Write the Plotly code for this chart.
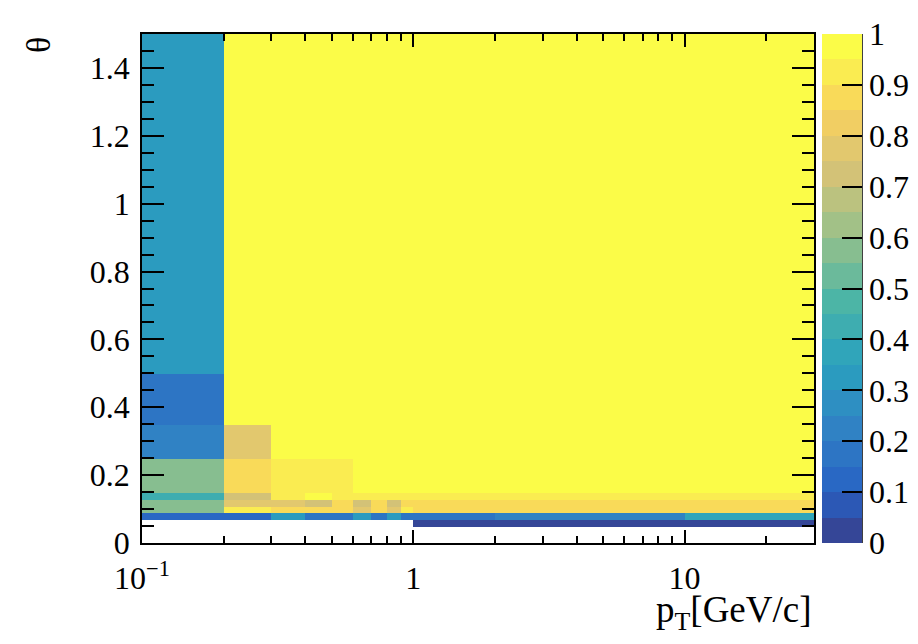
import plotly.graph_objects as go

# ---- data ----
pt_edges = [0.1, 0.2, 0.3, 0.4, 0.5, 0.6, 0.7, 0.8, 0.9, 1.0, 2.0, 10.0, 30.0]
theta_edges = [0.047, 0.067, 0.087, 0.107, 0.127, 0.147, 0.247, 0.347, 0.497, 1.5]

row_0047 = [None, None, None, None, None, None, None, None, None, 0.04, 0.04, 0.04]
row_0067 = [0.14, 0.14, 0.33, 0.17, 0.17, 0.32, 0.17, 0.33, 0.17, 0.17, 0.22, 0.36]
row_0087 = [0.56, 0.91, 0.87, 0.87, 0.87, 0.77, 0.87, 0.77, 0.91, 0.89, 0.89, 0.89]
row_0107 = [0.56, 0.77, 0.78, 0.72, 0.87, 0.72, 0.87, 0.72, 0.87, 0.86, 0.86, 0.86]
row_0127 = [0.43, 0.71, 0.93, 0.98, 0.93, 0.93, 0.93, 0.93, 0.93, 0.92, 0.92, 0.92]
row_0147 = [0.59, 0.86, 0.93, 0.93, 0.93, 0.98, 0.98, 0.98, 0.98, 0.98, 0.98, 0.98]
row_0247 = [0.22, 0.77, 0.98, 0.98, 0.98, 0.98, 0.98, 0.98, 0.98, 0.98, 0.98, 0.98]
row_0347 = [0.17, 0.98, 0.98, 0.98, 0.98, 0.98, 0.98, 0.98, 0.98, 0.98, 0.98, 0.98]
row_0497 = [0.33, 0.98, 0.98, 0.98, 0.98, 0.98, 0.98, 0.98, 0.98, 0.98, 0.98, 0.98]

z = [row_0047, row_0067, row_0087, row_0107, row_0127,
     row_0147, row_0247, row_0347, row_0497]

x_tickvals = [0.1, 1, 10]
x_ticktext = ["10<sup>\u22121</sup>", "1", "10"]
x_minor = [0.2, 0.3, 0.4, 0.5, 0.6, 0.7, 0.8, 0.9, 2, 3, 4, 5, 6, 7, 8, 9, 20, 30]
cb_ticks = [0, 0.1, 0.2, 0.3, 0.4, 0.5, 0.6, 0.7, 0.8, 0.9, 1.0]
cb_text = ["0", "0.1", "0.2", "0.3", "0.4", "0.5", "0.6", "0.7", "0.8", "0.9", "1"]

# ---- ROOT kBird palette, 20 contour levels (slightly softened like the reference) ----
stops = [0.0, 0.125, 0.25, 0.375, 0.5, 0.625, 0.75, 0.875, 1.0]
red = [0.2082, 0.0592, 0.0780, 0.0232, 0.1802, 0.5301, 0.8186, 0.9956, 0.9764]
green = [0.1664, 0.3599, 0.5041, 0.6419, 0.7178, 0.7492, 0.7328, 0.7862, 0.9832]
blue = [0.5293, 0.8684, 0.8385, 0.7914, 0.6425, 0.4662, 0.3499, 0.1968, 0.0539]


def bird(f):
    f = min(max(f, 0.0), 1.0)
    for k in range(1, len(stops)):
        if f <= stops[k]:
            t = (f - stops[k - 1]) / (stops[k] - stops[k - 1])
            r = red[k - 1] + t * (red[k] - red[k - 1])
            g = green[k - 1] + t * (green[k] - green[k - 1])
            b = blue[k - 1] + t * (blue[k] - blue[k - 1])
            break
    r, g, b = r * 255, g * 255, b * 255
    lum = 0.3 * r + 0.59 * g + 0.11 * b
    s = 0.76
    r, g, b = [min(255, max(0, lum + s * (c - lum) + 8)) for c in (r, g, b)]
    return "rgb(%d,%d,%d)" % (round(r), round(g), round(b))


ncont = 20
colorscale = []
for i in range(ncont):
    idx = int((i + 0.99) * 255 / ncont)
    c = bird(idx / 254.0)
    colorscale.append([i / ncont, c])
    colorscale.append([(i + 1) / ncont, c])

# ---- layout geometry (page is offset by the 8px body margin) ----
OFF = 8
W, H = 918 - OFF, 644 - OFF
L, T = 142 - OFF, 34 - OFF
R = W - (814 - OFF)
B = H - (543 - OFF)
pw = W - L - R
ph = H - T - B


def px_x(page_x):
    return (page_x - OFF - L) / pw


def px_y(page_y):
    return (H - B - (page_y - OFF)) / ph


font_family = "Liberation Serif, Times New Roman, serif"

fig = go.Figure()
fig.add_trace(go.Heatmap(
    x=pt_edges, y=theta_edges, z=z,
    zmin=0, zmax=1, colorscale=colorscale, zsmooth=False,
    hoverongaps=False,
    colorbar=dict(
        x=px_x(822), xanchor="left", xpad=0, ypad=0,
        y=0.5, yanchor="middle", len=1, lenmode="fraction",
        thickness=40, thicknessmode="pixels",
        outlinewidth=0,
        ticks="inside", ticklen=20, tickwidth=1.5, tickcolor="black",
        tickvals=cb_ticks, ticktext=cb_text,
        tickfont=dict(family=font_family, size=32, color="black"),
    ),
))

fig.update_layout(
    width=W, height=H,
    margin=dict(l=L, r=R, t=T, b=B, autoexpand=False),
    paper_bgcolor="white", plot_bgcolor="white",
    showlegend=False,
    font=dict(family=font_family, color="black"),
    xaxis=dict(
        type="log", range=[-1, 1.4771],
        showgrid=False, zeroline=False, automargin=False,
        showline=True, linecolor="black", linewidth=1.5, mirror="ticks",
        ticks="inside", ticklen=13, tickwidth=1.5, tickcolor="black",
        tickmode="array", tickvals=x_tickvals, ticktext=x_ticktext,
        tickfont=dict(family=font_family, size=32, color="black"),
        ticklabelstandoff=6,
        minor=dict(ticks="inside", ticklen=7, tickwidth=1.5, tickcolor="black",
                   tickmode="array", tickvals=x_minor, showgrid=False),
    ),
    yaxis=dict(
        range=[0, 1.5],
        showgrid=False, zeroline=False, automargin=False,
        showline=True, linecolor="black", linewidth=1.5, mirror="ticks",
        ticks="inside", ticklen=22, tickwidth=1.5, tickcolor="black",
        tick0=0, dtick=0.2,
        tickfont=dict(family=font_family, size=32, color="black"),
        ticklabelstandoff=4,
        minor=dict(ticks="inside", ticklen=12, tickwidth=1.5, tickcolor="black",
                   dtick=0.05, showgrid=False),
    ),
    shapes=[dict(type="line", xref="paper", yref="paper",
                 x0=px_x(862), x1=px_x(862), y0=0, y1=1,
                 line=dict(color="black", width=1.5))],
    annotations=[
        dict(text="\u03b8", xref="paper", yref="paper",
             x=px_x(39), y=px_y(45), xanchor="center", yanchor="middle",
             textangle=-90, showarrow=False,
             font=dict(family=font_family, size=34, color="black")),
        dict(text="p<sub>T</sub>[GeV/c]", xref="paper", yref="paper",
             x=1.0, y=px_y(612), xanchor="right", yanchor="middle",
             showarrow=False,
             font=dict(family=font_family, size=37, color="black")),
    ],
)

fig.write_html("out.html")
